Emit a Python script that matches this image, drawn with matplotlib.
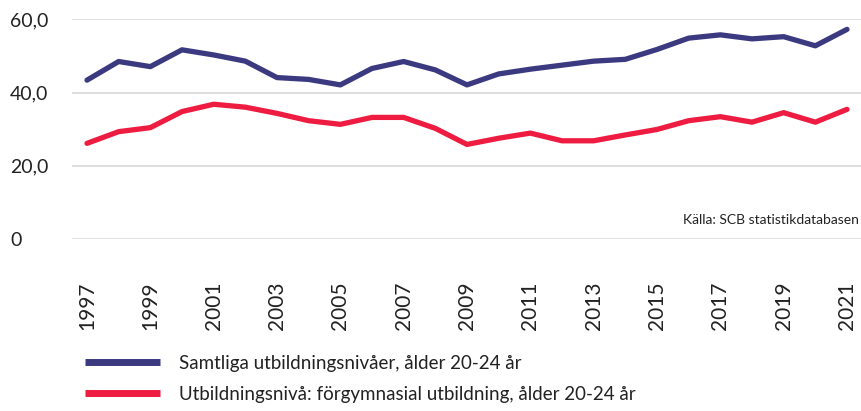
import matplotlib
matplotlib.use("Agg")
import matplotlib.pyplot as plt
from matplotlib.ticker import FuncFormatter

plt.rcParams["font.family"] = ["Lato", "DejaVu Sans"]

years = list(range(1997, 2022))

samtliga = [43.4, 48.5, 47.1, 51.7, 50.3, 48.6, 44.1, 43.6, 42.1, 46.6,
            48.5, 46.2, 42.1, 45.1, 46.4, 47.5, 48.6, 49.1, 51.8, 54.9,
            55.8, 54.7, 55.3, 52.8, 57.3]

forgymnasial = [26.1, 29.3, 30.4, 34.8, 36.8, 36.0, 34.3, 32.3, 31.3, 33.2,
                33.2, 30.2, 25.8, 27.5, 28.9, 26.8, 26.8, 28.4, 29.9, 32.3,
                33.4, 31.9, 34.5, 31.9, 35.4]

series_labels = [
    "Samtliga utbildningsnivåer, ålder 20-24 år",
    "Utbildningsnivå: förgymnasial utbildning, ålder 20-24 år",
]
y_ticks = [0, 20, 40, 60]
x_labels = years[::2]

BLUE = "#3b3a80"
RED = "#ee1c40"

fig = plt.figure(figsize=(8.61, 4.11), dpi=100)
ax = fig.add_axes([72 / 861, 1 - 238.7 / 411, 1 - 72 / 861, (238.7 - 19.5) / 411])

ax.plot(years, samtliga, color=BLUE, linewidth=3.8, solid_capstyle="round",
        solid_joinstyle="round", label=series_labels[0])
ax.plot(years, forgymnasial, color=RED, linewidth=3.8, solid_capstyle="round",
        solid_joinstyle="round", label=series_labels[1])

# pixel layout: 1997 at x=87, 2021 at x=847 inside axes spanning 72..861
px_per_year = (847 - 87) / 24
ax.set_xlim(1997 - (87 - 72) / px_per_year, 2021 + (861 - 847) / px_per_year)
ax.set_ylim(0, 60)

ax.set_yticks(y_ticks)
ax.yaxis.set_major_formatter(FuncFormatter(lambda v, _: "0" if v == 0 else f"{v:.1f}".replace(".", ",")))
ax.set_xticks(x_labels)
ax.set_xticklabels([str(y) for y in x_labels], rotation=90, va="top", ha="center")

ax.grid(axis="y", color="#d9d9d9", linewidth=1.2)
ax.set_axisbelow(True)
for s in ax.spines.values():
    s.set_visible(False)
ax.tick_params(axis="both", length=0, labelsize=14, colors="#222222")
ax.tick_params(axis="x", labelsize=15, pad=31)
ax.tick_params(axis="y", pad=44.6)
for lbl in ax.get_yticklabels():
    lbl.set_horizontalalignment("left")

ax.text(0.997, 0.085, "Källa: SCB statistikdatabasen", transform=ax.transAxes,
        ha="right", va="center", fontsize=10, color="#222222")

leg = fig.legend(loc="center left", bbox_to_anchor=(85 / 861, 1 - 379 / 411),
                 frameon=False, fontsize=13.5, handlelength=4.0, handletextpad=1.0,
                 labelspacing=0.75, borderpad=0, borderaxespad=0)
for line in leg.get_lines():
    line.set_linewidth(5)
    line.set_solid_capstyle("butt")
for t in leg.get_texts():
    t.set_color("#222222")

fig.savefig("out.png", dpi=100)
